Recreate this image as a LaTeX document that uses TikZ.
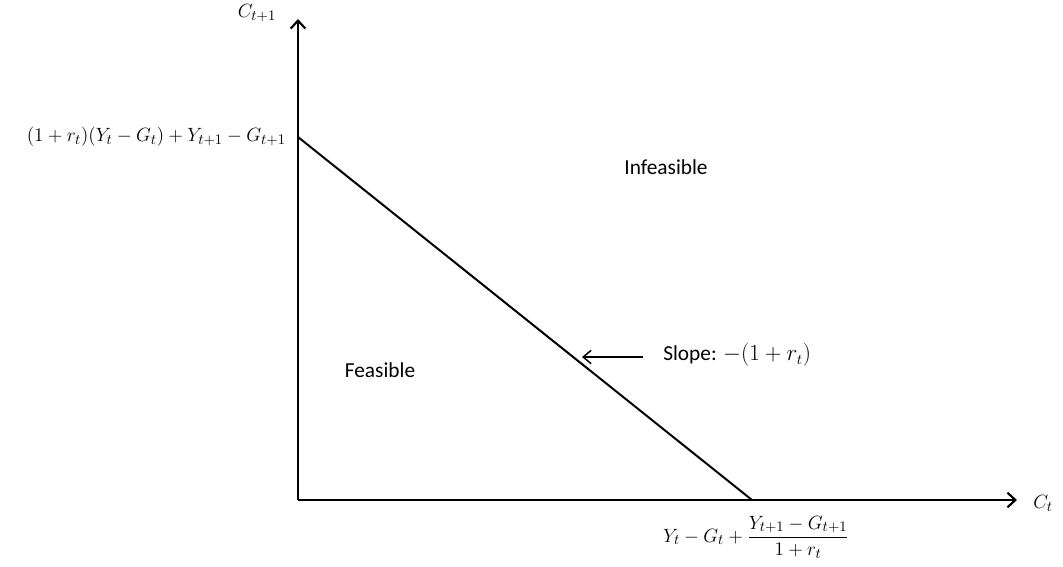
\documentclass[tikz,border=0pt]{standalone}
\usepackage{amsmath}
\usepackage{fontspec}
\setmainfont{Carlito}
\usetikzlibrary{arrows.meta}
\begin{document}
\begin{tikzpicture}[x=0.75pt,y=-0.75pt,
  axis/.style={line width=2.2pt,-{Straight Barb[length=6pt,width=11pt,line width=1.6pt]}},
  budget/.style={line width=1.5pt},
  pointer/.style={line width=1.1pt,-{Straight Barb[length=6pt,width=10pt]}},
  lbl/.style={inner sep=0pt,font=\fontsize{15}{18}\selectfont}]
\useasboundingbox (0,0) rectangle (1063,567);
\coordinate (O) at (298,500);
\coordinate (ytop) at (298,19);
\coordinate (xend) at (1017,500);
\coordinate (yint) at (298,137);
\coordinate (xint) at (752,500);
\coordinate (pfrom) at (643,357);
\coordinate (pto) at (582,357);
\draw[axis] (O) -- (ytop);
\draw[axis] (O) -- (xend);
\draw[budget] (yint) -- (xint);
\draw[pointer] (pfrom) -- (pto);
\node[lbl] (cy) at (257,13) {$C_{t+1}$};
\node[lbl] (cx) at (1043,503) {$C_t$};
\node[lbl,anchor=east] (yl) at (286,137) {$(1+r_t)(Y_t-G_t)+Y_{t+1}-G_{t+1}$};
\node[lbl] (xl) at (756,537) {$Y_t-G_t+\dfrac{Y_{t+1}-G_{t+1}}{1+r_t}$};
\node[lbl,font=\fontsize{16}{19}\selectfont] (inf) at (666,167) {Infeasible};
\node[lbl,font=\fontsize{16}{19}\selectfont] (fea) at (380,370) {Feasible};
\node[lbl,anchor=west] (sl) at (663,355) {\fontsize{16}{19}\selectfont Slope: $-(1+r_t)$};
\end{tikzpicture}
\end{document}
